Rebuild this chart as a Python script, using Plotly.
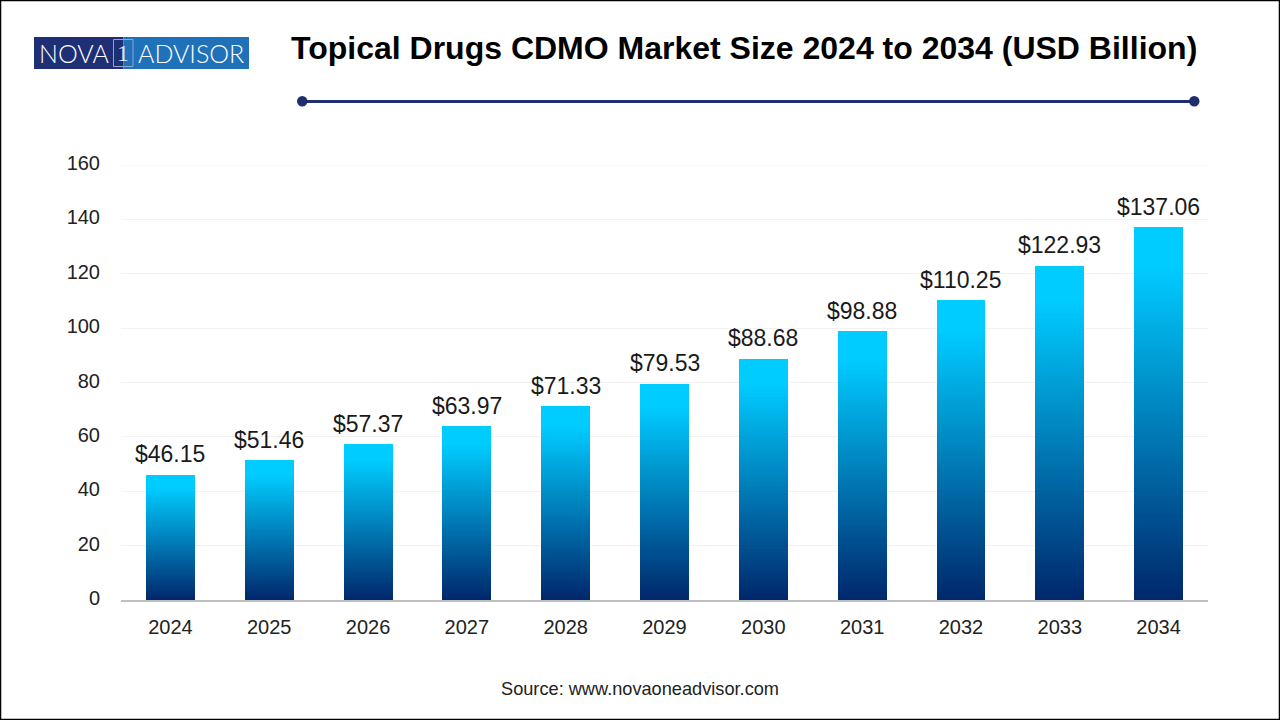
import plotly.graph_objects as go

years = ["2024","2025","2026","2027","2028","2029","2030","2031","2032","2033","2034"]
values = [46.15,51.46,57.37,63.97,71.33,79.53,88.68,98.88,110.25,122.93,137.06]
labels = ["$46.15","$51.46","$57.37","$63.97","$71.33","$79.53","$88.68","$98.88","$110.25","$122.93","$137.06"]
y_ticks = [0,20,40,60,80,100,120,140,160]

TOP = (0,204,255)
BOTTOM = (0,40,108)
N = 100
W, H = 1280, 720
L, R, T, B = 121, 1208, 165, 600

fig = go.Figure()
for i in range(N-1, -1, -1):
    f2 = min((i/(N-1))/0.9, 1)
    c = tuple(round(BOTTOM[k]+(TOP[k]-BOTTOM[k])*f2) for k in range(3))
    fig.add_trace(go.Bar(
        x=years,
        y=[v*(i+1)/N for v in values],
        marker=dict(color=f"rgb{c}", line=dict(width=0)),
        hoverinfo="skip", showlegend=False))

def px(x): return (x-L)/(R-L)
def py(y): return (B-y)/(B-T)
NAVY = "#1F2F6E"
shapes = [
    dict(type="rect", xref="paper", yref="paper", x0=px(0.5), x1=px(W-0.5), y0=py(0.5), y1=py(H-0.5),
         line=dict(color="#000000", width=1.5), fillcolor="rgba(0,0,0,0)", layer="below"),
    dict(type="line", xref="paper", yref="y", x0=0, x1=1, y0=y_ticks[-1], y1=y_ticks[-1],
         line=dict(color="#F2F2F2", width=1), layer="below"),
    dict(type="rect", xref="paper", yref="paper", x0=px(34), x1=px(123.5), y0=py(37), y1=py(69),
         line=dict(width=0), fillcolor="#1F2F76"),
    dict(type="rect", xref="paper", yref="paper", x0=px(123.5), x1=px(249), y0=py(37), y1=py(69),
         line=dict(width=0), fillcolor="#1F71BA"),
    dict(type="rect", xref="paper", yref="paper", x0=px(113.5), x1=px(133), y0=py(39.5), y1=py(66.5),
         line=dict(color="#8FA6CF", width=1), fillcolor="rgba(0,0,0,0)"),
    dict(type="line", xref="paper", yref="paper", x0=px(302), x1=px(1194), y0=py(101.5), y1=py(101.5),
         line=dict(color=NAVY, width=3)),
    dict(type="circle", xref="paper", yref="paper", x0=px(297), x1=px(307.5), y0=py(96), y1=py(106.5),
         line=dict(width=0), fillcolor=NAVY),
    dict(type="circle", xref="paper", yref="paper", x0=px(1189), x1=px(1199.5), y0=py(96), y1=py(106.5),
         line=dict(width=0), fillcolor=NAVY),
]

def note(text, x, y, size, color, family, bold=False, weight=None):
    font = dict(family=family, size=size, color=color)
    if weight:
        font["weight"] = weight
    return dict(text=f"<b>{text}</b>" if bold else text, xref="paper", yref="paper",
                x=px(x), y=py(y), xanchor="center", yanchor="middle", showarrow=False, font=font)

annotations = [
    note("Topical Drugs CDMO Market Size 2024 to 2034 (USD Billion)", 744, 48, 32, "#000000", "Liberation Sans", True),
    note("NOVA", 73.5, 53.5, 25, "#FFFFFF", "Lato", weight=300),
    note("1", 123, 53.5, 24, "#DDE6F5", "Liberation Serif"),
    note("ADVISOR", 191, 53.5, 25, "#FFFFFF", "Lato", weight=300),
    note("Source: www.novaoneadvisor.com", 640, 689, 18.2, "#222222", "Liberation Sans"),
]
for idx, (v, lab) in enumerate(zip(values, labels)):
    annotations.append(dict(text=lab, xref="x", yref="y", x=idx, y=v, xanchor="center", yanchor="bottom",
                            yshift=5.5, showarrow=False,
                            font=dict(family="Liberation Sans", size=23, color="#1A1A1A")))

fig.update_layout(
    width=W, height=H, barmode="overlay", bargap=0.505,
    margin=dict(l=L, r=W-R, t=T, b=H-B, pad=0),
    paper_bgcolor="#FFFFFF", plot_bgcolor="#FFFFFF",
    shapes=shapes, annotations=annotations,
    xaxis=dict(type="category", range=[-0.5,10.5], showgrid=False, showline=True, linecolor="#BFBFBF", linewidth=2,
               ticks="", tickfont=dict(family="Liberation Sans", size=20, color="#222222"), ticklabelstandoff=8),
    yaxis=dict(range=[0,160], tickvals=y_ticks, showgrid=True, gridcolor="#F2F2F2", gridwidth=1,
               zeroline=False, showline=False, ticks="", ticklabelshift=-2,
               tickfont=dict(family="Liberation Sans", size=20, color="#222222"), ticklabelstandoff=20),
)
post = ("document.body.style.margin='0';document.documentElement.style.overflow='hidden';"
        "var s=document.createElement('style');s.textContent='.bars path{shape-rendering:crispEdges}';"
        "document.head.appendChild(s);")
fig.write_html("out.html", config=dict(displayModeBar=False), post_script=post)
